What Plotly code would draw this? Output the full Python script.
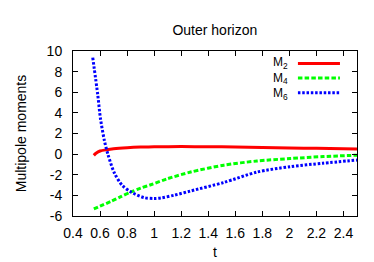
import plotly.graph_objects as go

# ---- data ----
t_m2 = [0.554, 0.57, 0.6, 0.65, 0.7, 0.8, 0.9, 1.0, 1.2, 1.4, 1.6, 1.8, 2.0, 2.2, 2.5]
m2 = [-0.12, 0.08, 0.3, 0.43, 0.52, 0.62, 0.68, 0.71, 0.73, 0.72, 0.69, 0.64, 0.6, 0.56, 0.5]

t_m4 = [0.554, 0.6, 0.68, 0.75, 0.828, 0.9, 0.975, 1.1, 1.27, 1.515, 1.76, 2.005, 2.25, 2.5]
m4 = [-5.32, -5.05, -4.59, -4.15, -3.67, -3.3, -2.97, -2.38, -1.74, -1.07, -0.67, -0.43, -0.24, -0.1]

t_m6 = [0.546, 0.583, 0.603, 0.632, 0.659, 0.706, 0.762, 0.828, 0.926, 1.0, 1.05, 1.15, 1.27, 1.515, 1.76, 2.005, 2.25, 2.5]
m6 = [9.36, 5.75, 3.46, 1.32, -0.06, -1.83, -3.0, -3.67, -4.22, -4.3, -4.25, -3.98, -3.57, -2.75, -1.74, -1.22, -0.88, -0.58]

series_names = ["M<sub>2</sub>", "M<sub>4</sub>", "M<sub>6</sub>"]
x_ticks = [0.4, 0.6, 0.8, 1.0, 1.2, 1.4, 1.6, 1.8, 2.0, 2.2, 2.4]
y_ticks = [-6, -4, -2, 0, 2, 4, 6, 8, 10]

FONT = "Liberation Sans, Arial, sans-serif"
styles = [
    dict(color="#ff0000", width=3, dash="solid"),
    dict(color="#00ff00", width=3, dash="4.5px,2.2px"),
    dict(color="#0000ff", width=3, dash="2.5px,1.8px"),
]

fig = go.Figure()
for tx, vy, st in zip([t_m2, t_m4, t_m6], [m2, m4, m6], styles):
    fig.add_trace(go.Scatter(x=tx, y=vy, mode="lines", line=dict(shape="spline", smoothing=0.8, **st),
                             showlegend=False, hoverinfo="skip"))

# gnuplot-style legend (text left, sample right) as one multi-line text
fig.add_annotation(x=0.764, y=0.836, xref="paper", yref="paper", text="<br>".join(series_names),
                   showarrow=False, xanchor="right", yanchor="middle", align="right",
                   font=dict(family=FONT, size=12, color="black"))
leg_y = [0.925, 0.836, 0.747]
for yy, st in zip(leg_y, styles):
    fig.add_shape(type="line", xref="paper", yref="paper", x0=0.792, x1=0.940, y0=yy, y1=yy,
                  line=st)

axis_common = dict(showline=True, linecolor="black", linewidth=1, mirror="ticks", ticks="inside",
                   ticklen=5, tickcolor="black", showgrid=False, zeroline=False,
                   tickfont=dict(family=FONT, size=14, color="black"))

fig.update_layout(
    width=374, height=262,
    margin=dict(l=65, r=25, t=43, b=44),
    paper_bgcolor="white", plot_bgcolor="white",
    title=dict(text="Outer horizon", x=0.553, xanchor="center", y=0.915, yanchor="middle",
               font=dict(family=FONT, size=14, color="black")),
    xaxis=dict(range=[0.4, 2.5], tickvals=x_ticks, ticktext=[f"{v:g}" for v in x_ticks],
               ticklabelstandoff=4,
               title=dict(text="t", font=dict(family=FONT, size=14, color="black"), standoff=7),
               **axis_common),
    yaxis=dict(range=[-6, 10], tickvals=y_ticks, ticktext=[str(v) for v in y_ticks],
               ticklabelstandoff=7,
               title=dict(text="Multipole moments", font=dict(family=FONT, size=14, color="black"), standoff=16),
               **axis_common),
)

fig.write_html("out.html")
